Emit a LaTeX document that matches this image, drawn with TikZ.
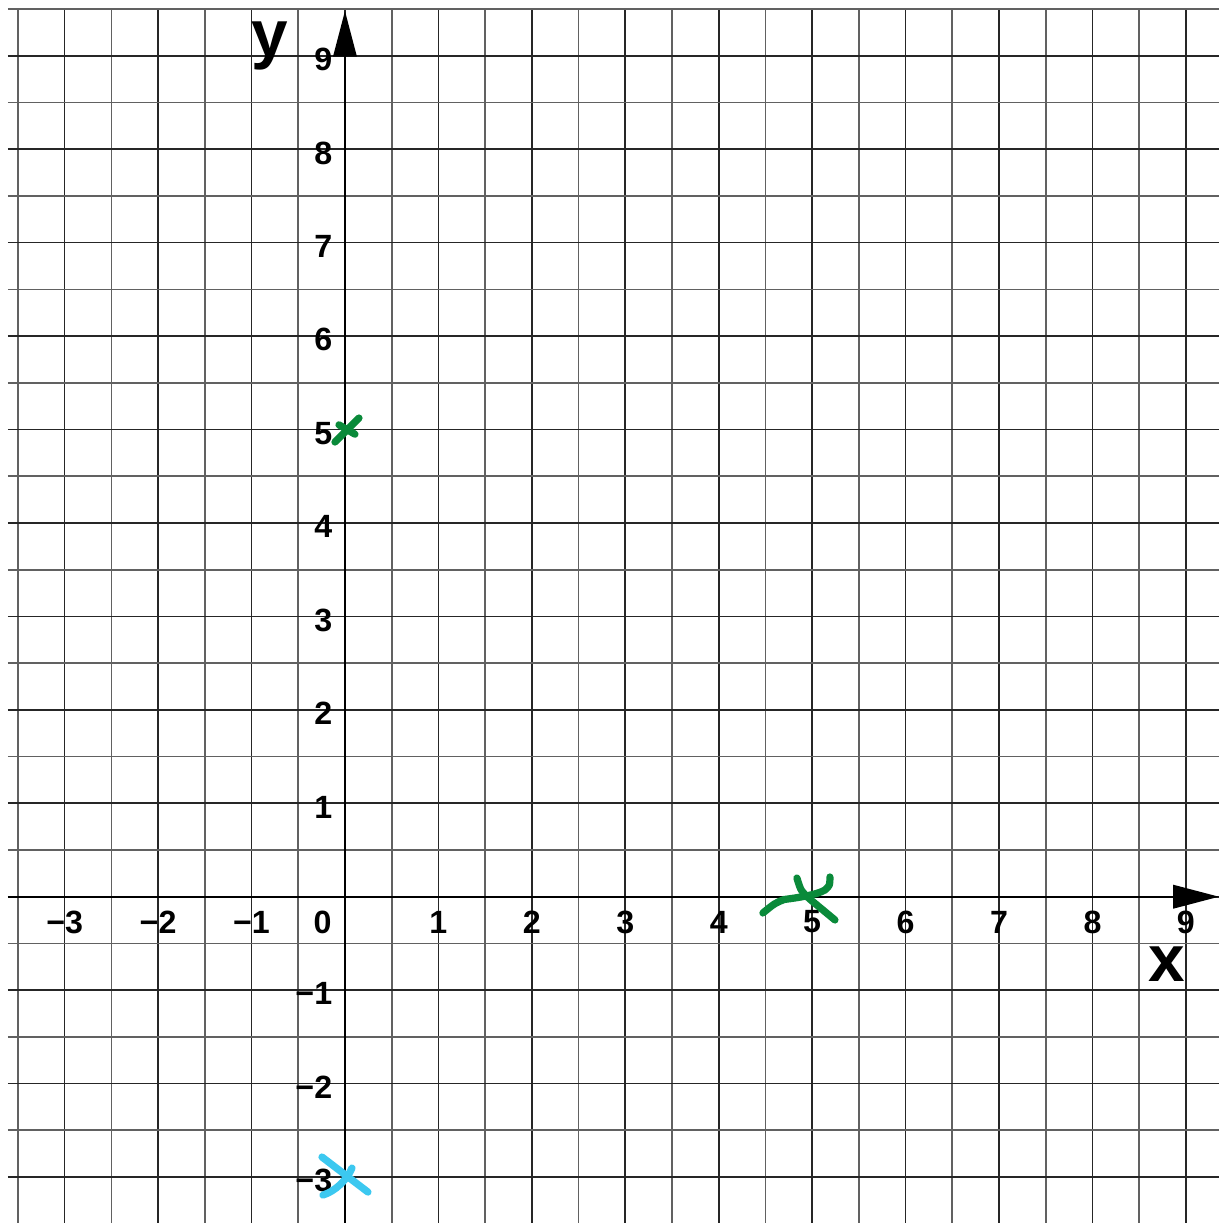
\documentclass[tikz,border=0pt]{standalone}
\usepackage{fontspec}
\setmainfont{Liberation Sans}
\usetikzlibrary{arrows, arrows.meta}
\usetikzlibrary{calc}
\definecolor{markgreen}{HTML}{0A8A3A}
\definecolor{markcyan}{HTML}{3CC8F0}
\tikzset{
  gridmajor/.style={black!85, line width=0.5pt},
  gridminor/.style={black!62, line width=0.5pt},
  axis/.style={black, line width=0.7pt, -{Triangle[length=4.9mm, width=2.5mm]}},
  ticklabel/.style={font=\fontsize{9.8}{11}\selectfont\bfseries, inner sep=0pt},
  axislabel/.style={font=\fontsize{20}{22}\selectfont\bfseries, inner sep=0pt},
  stroke/.style={line width=2.2pt, line cap=round, line join=round}
}

\begin{document}
\begin{tikzpicture}
    \useasboundingbox[fill=white] (-3.692,-3.492) rectangle (9.354,9.597);

    \foreach \x in {-3.5,-2.5,...,8.5} {\draw[gridminor] (\x,-3.492) -- (\x,9.5);}
    \foreach \x in {-3,...,9} {\draw[gridmajor] (\x,-3.492) -- (\x,9.5);}
    \foreach \y in {-2.5,-1.5,...,9.5} {\draw[gridminor] (-3.607,\y) -- (9.354,\y);}
    \foreach \y in {-3,...,9} {\draw[gridmajor] (-3.607,\y) -- (9.354,\y);}

    \coordinate (xstart) at (-3.607,0);
    \coordinate (xend) at (9.354,0);
    \coordinate (ystart) at (0,-3.492);
    \coordinate (yend) at (0,9.48);
    \draw[axis] (xstart) -- (xend);
    \draw[axis] (ystart) -- (yend);

    \foreach \x in {-3,-2,-1} {\node[ticklabel] (xl\x) at (\x,-0.27) {−\the\numexpr-\x\relax};}
    \foreach \x in {1,...,9} {\node[ticklabel] (xl\x) at (\x,-0.27) {\x};}
    \node[ticklabel] (origin) at (-0.24,-0.27) {0};
    \foreach \y in {-3,-2,-1} {\node[ticklabel, anchor=east] (yl\y) at (-0.13,\y-0.04) {−\the\numexpr-\y\relax};}
    \foreach \y in {1,...,9} {\node[ticklabel, anchor=east] (yl\y) at (-0.13,\y-0.04) {\y};}

    \node[axislabel, anchor=base] (xlabel) at (8.79,-0.91) {x};
    \node[axislabel, anchor=base] (ylabel) at (-0.80,8.99) {y};

    \draw[stroke, markgreen] (-0.107,4.866) -- (0.150,5.123);
    \draw[stroke, markgreen] (-0.064,5.05) -- (0.107,4.95);

    \draw[stroke, markgreen] (4.473,-0.174) .. controls (4.60,-0.07) .. (4.70,-0.03)
        .. controls (4.85,-0.01) and (5.05,0.02) .. (5.137,0.072)
        .. controls (5.19,0.12) .. (5.190,0.211);
    \draw[stroke, markgreen] (4.837,0.200) .. controls (4.88,0.06) .. (4.98,-0.03) -- (5.244,-0.249);

    \draw[stroke, markcyan] (-0.246,-2.786) -- (0.246,-3.161);
    \draw[stroke, markcyan] (0.075,-2.904) .. controls (0.02,-3.03) and (-0.10,-3.15) .. (-0.235,-3.193);
\end{tikzpicture}
\end{document}
